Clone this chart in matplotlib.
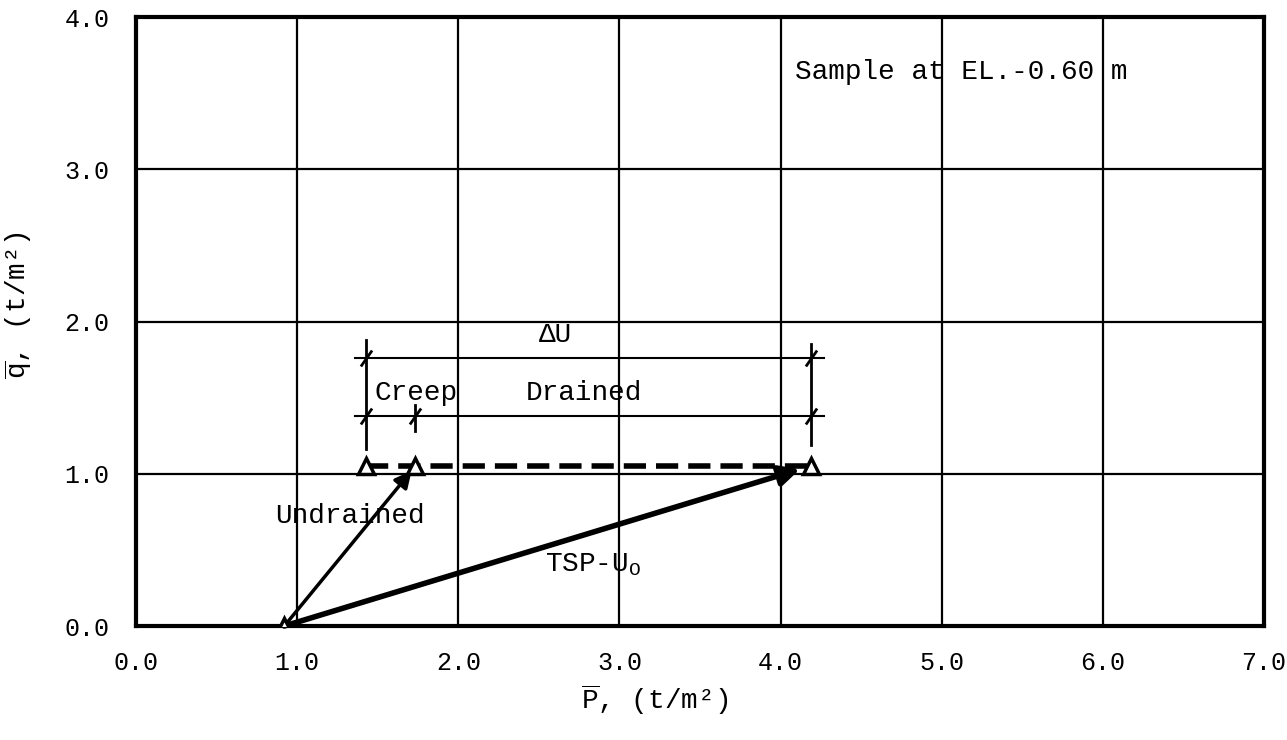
import matplotlib
matplotlib.use('Agg')
from matplotlib import pyplot as plt

plt.rcParams['font.family'] = ['Liberation Mono', 'DejaVu Sans Mono']
plt.rcParams['mathtext.fontset'] = 'custom'
plt.rcParams['mathtext.rm'] = 'Liberation Mono'
plt.rcParams['mathtext.it'] = 'Liberation Mono'

# stress path points (p, q) in t/m2
start = (0.92, 0.0)
undrained_end = (1.73, 1.05)
creep_start = (1.43, 1.05)
drained_end = (4.19, 1.05)
tsp_tip = (4.12, 1.03)

# dimension lines
dim_x = [1.43, 4.19]
dim_y_du = 1.76
dim_y_parts = 1.38
creep_split = 1.73

x_ticks = [0, 1, 2, 3, 4, 5, 6, 7]
y_ticks = [0, 1, 2, 3, 4]

fig = plt.figure(figsize=(12.87, 7.4), dpi=100)
ax = fig.add_axes([0.1057, 0.154, 0.8765, 0.823])
ax.set_xlim(0, 7)
ax.set_ylim(0, 4)
ax.set_xticks(x_ticks)
ax.set_yticks(y_ticks)
ax.set_xticklabels([f"{v:.1f}" for v in x_ticks])
ax.set_yticklabels([f"{v:.1f}" for v in y_ticks])
ax.tick_params(length=0, labelsize=18)
ax.tick_params(axis='x', pad=18)
ax.tick_params(axis='y', pad=19)
ax.grid(True, color='black', linewidth=1.6)
for s in ax.spines.values():
    s.set_linewidth(3)
ax.set_axisbelow(True)

# paths
ax.annotate('', xy=(undrained_end[0] - 0.02, undrained_end[1] - 0.03), xytext=start,
            arrowprops=dict(arrowstyle='-|>', color='black', lw=2.5,
                            mutation_scale=25, shrinkA=0, shrinkB=0))
ax.annotate('', xy=tsp_tip, xytext=start,
            arrowprops=dict(arrowstyle='-|>', color='black', lw=4,
                            mutation_scale=30, shrinkA=0, shrinkB=0))
ax.plot([creep_start[0], drained_end[0]], [creep_start[1], drained_end[1]],
        color='black', lw=4, linestyle=(0, (4, 1.8)))
ax.plot([start[0], creep_start[0], undrained_end[0], drained_end[0]],
        [start[1], creep_start[1], undrained_end[1], drained_end[1]],
        linestyle='none', marker='^', markersize=12, markerfacecolor='white',
        markeredgecolor='black', markeredgewidth=2.5, zorder=5)

# dimension lines
ax.plot([1.36, 4.27], [dim_y_du, dim_y_du], color='black', lw=1.5)
ax.plot([1.36, 4.27], [dim_y_parts, dim_y_parts], color='black', lw=1.5)
ax.plot([dim_x[0], dim_x[0]], [1.16, 1.88], color='black', lw=2)
ax.plot([dim_x[1], dim_x[1]], [1.19, 1.85], color='black', lw=2)
ax.plot([creep_split, creep_split], [1.28, 1.45], color='black', lw=2)
ax.plot([dim_x[0], dim_x[1], dim_x[0], dim_x[1], creep_split],
        [dim_y_du, dim_y_du, dim_y_parts, dim_y_parts, dim_y_parts],
        linestyle='none', marker=(2, 0, -35), markersize=14,
        markeredgewidth=2, color='black')

ax.text(2.6, 1.91, 'ΔU', fontsize=20, ha='center', va='center')
ax.text(1.48, 1.53, 'Creep', fontsize=20, ha='left', va='center')
ax.text(2.42, 1.53, 'Drained', fontsize=20, ha='left', va='center')
ax.text(0.86, 0.72, 'Undrained', fontsize=20, ha='left', va='center')
ax.text(2.54, 0.4, r'TSP-U$_\mathrm{O}$', fontsize=20, ha='left', va='center')
ax.text(4.09, 3.64, 'Sample at EL.-0.60 m', fontsize=20, ha='left', va='center')

fig.text(655 / 1287, 1 - 700 / 740, r'$\overline{\mathrm{P}}$, (t/m²)',
         fontsize=20, ha='center', va='center')
fig.text(18 / 1287, 1 - 305 / 740, r'$\overline{\mathrm{q}}$, (t/m²)',
         fontsize=20, ha='center', va='center', rotation=90)

fig.savefig('out.png', dpi=100)
